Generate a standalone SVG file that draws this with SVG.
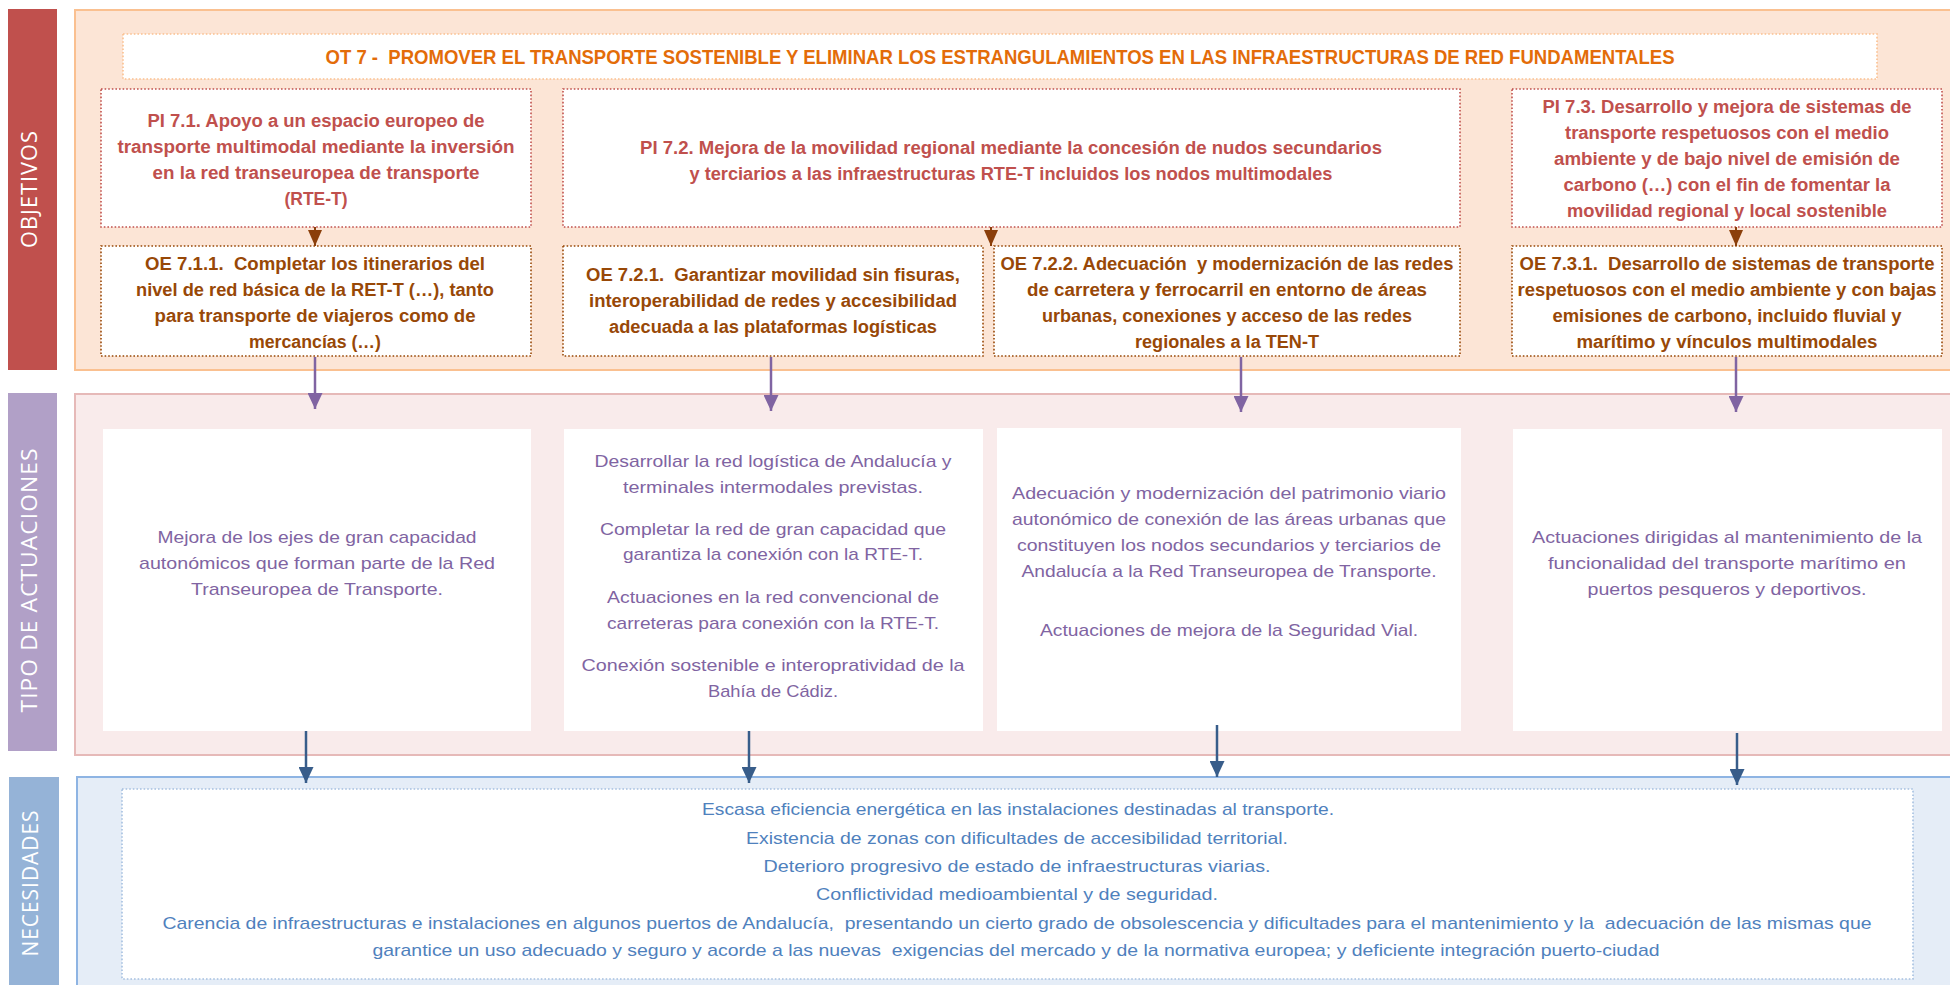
<svg xmlns="http://www.w3.org/2000/svg" width="1950" height="985" viewBox="0 0 1950 985">
<defs>
<style>
.band{stroke:none}
.bandtxt{font-family:"Open Sans","Liberation Sans",sans-serif;font-size:21px;fill:#ffffff;text-anchor:middle;letter-spacing:1px}
.dot{fill:#ffffff;stroke-width:1.6;stroke-dasharray:1.6 2}
.pi{font-family:"Liberation Sans",Arial,sans-serif;font-size:18px;font-weight:bold;fill:#C0504D;text-anchor:middle}
.oe{font-family:"Liberation Sans",Arial,sans-serif;font-size:18px;font-weight:bold;fill:#984807;text-anchor:middle}
.ot{font-family:"Liberation Sans",Arial,sans-serif;font-size:20px;font-weight:bold;fill:#E36C09;text-anchor:middle}
.act{font-family:"Liberation Sans",Arial,sans-serif;font-size:17px;fill:#8064A2;text-anchor:middle}
.nec{font-family:"Liberation Sans",Arial,sans-serif;font-size:17px;fill:#4F81BD;text-anchor:middle}
.pre{white-space:pre}
.cb{stroke:#8B3F0B;stroke-width:2;fill:none}
.cp{stroke:#8064A2;stroke-width:2.5;fill:none}
.cl{stroke:#385D8A;stroke-width:2.5;fill:none}
</style>
<marker id="ahB" viewBox="0 0 16 14" markerWidth="16" markerHeight="14" refX="16" refY="7" orient="auto" markerUnits="userSpaceOnUse"><path d="M0,0 L16,7 L0,14 Z" fill="#8B3F0B"/></marker>
<marker id="ahP" viewBox="0 0 16 15" markerWidth="16" markerHeight="15" refX="16" refY="7.5" orient="auto" markerUnits="userSpaceOnUse"><path d="M0,0 L16,7.5 L0,15 Z" fill="#8064A2"/></marker>
<marker id="ahL" viewBox="0 0 16 15" markerWidth="16" markerHeight="15" refX="16" refY="7.5" orient="auto" markerUnits="userSpaceOnUse"><path d="M0,0 L16,7.5 L0,15 Z" fill="#385D8A"/></marker>
</defs>
<rect width="1950" height="985" fill="#ffffff"/>

<g id="sec-objetivos">
<rect x="8" y="9" width="49" height="361" fill="#C0504D"/>
<text class="bandtxt" transform="translate(37,189) rotate(-90)" textLength="118" lengthAdjust="spacingAndGlyphs">OBJETIVOS</text>
<rect x="75" y="10" width="1900" height="360" fill="#FCE5D6" stroke="#FAC090" stroke-width="2"/>
</g>

<g id="sec-actuaciones">
<rect x="8" y="393" width="49" height="358" fill="#B1A0C7"/>
<text class="bandtxt" transform="translate(37,580) rotate(-90)" textLength="265" lengthAdjust="spacingAndGlyphs">TIPO DE ACTUACIONES</text>
<rect x="75" y="394" width="1900" height="361" fill="#F9EBEB" stroke="#E6B9B8" stroke-width="2"/>
</g>

<g id="sec-necesidades">
<rect x="9" y="777" width="50" height="220" fill="#95B3D7"/>
<text class="bandtxt" transform="translate(38,883) rotate(-90)" textLength="147" lengthAdjust="spacingAndGlyphs">NECESIDADES</text>
<rect x="77" y="777" width="1900" height="220" fill="#E5EDF7" stroke="#8EB4E3" stroke-width="2"/>
</g>

<g id="ot7">
<rect class="dot" x="123" y="34" width="1754" height="45" stroke="#FAC090"/>
<text class="ot pre" x="1000" y="64" textLength="1349" lengthAdjust="spacingAndGlyphs">OT 7 -  PROMOVER EL TRANSPORTE SOSTENIBLE Y ELIMINAR LOS ESTRANGULAMIENTOS EN LAS INFRAESTRUCTURAS DE RED FUNDAMENTALES</text>
</g>

<g id="pi71">
<rect class="dot" x="101" y="89" width="430" height="138" stroke="#C0504D"/>
<text class="pi" x="316" y="127" textLength="337" lengthAdjust="spacingAndGlyphs">PI 7.1. Apoyo a un espacio europeo de</text>
<text class="pi" x="316" y="153" textLength="397" lengthAdjust="spacingAndGlyphs">transporte multimodal mediante la inversión</text>
<text class="pi" x="316" y="179" textLength="327" lengthAdjust="spacingAndGlyphs">en la red transeuropea de transporte</text>
<text class="pi" x="316" y="205" textLength="63" lengthAdjust="spacingAndGlyphs">(RTE-T)</text>
</g>

<g id="pi72">
<rect class="dot" x="563" y="89" width="897" height="138" stroke="#C0504D"/>
<text class="pi" x="1011" y="154" textLength="742" lengthAdjust="spacingAndGlyphs">PI 7.2. Mejora de la movilidad regional mediante la concesión de nudos secundarios</text>
<text class="pi" x="1011" y="180" textLength="643" lengthAdjust="spacingAndGlyphs">y terciarios a las infraestructuras RTE-T incluidos los nodos multimodales</text>
</g>

<g id="pi73">
<rect class="dot" x="1512" y="89" width="430" height="138" stroke="#C0504D"/>
<text class="pi" x="1727" y="113" textLength="369" lengthAdjust="spacingAndGlyphs">PI 7.3. Desarrollo y mejora de sistemas de</text>
<text class="pi" x="1727" y="139" textLength="324" lengthAdjust="spacingAndGlyphs">transporte respetuosos con el medio</text>
<text class="pi" x="1727" y="165" textLength="346" lengthAdjust="spacingAndGlyphs">ambiente y de bajo nivel de emisión de</text>
<text class="pi" x="1727" y="191" textLength="327" lengthAdjust="spacingAndGlyphs">carbono (…) con el fin de fomentar la</text>
<text class="pi" x="1727" y="217" textLength="320" lengthAdjust="spacingAndGlyphs">movilidad regional y local sostenible</text>
</g>

<g id="oe711">
<rect class="dot" x="101" y="246" width="430" height="110" stroke="#984807"/>
<text class="oe pre" x="315" y="270" textLength="340" lengthAdjust="spacingAndGlyphs">OE 7.1.1.  Completar los itinerarios del</text>
<text class="oe" x="315" y="296" textLength="358" lengthAdjust="spacingAndGlyphs">nivel de red básica de la RET-T (…), tanto</text>
<text class="oe" x="315" y="322" textLength="321" lengthAdjust="spacingAndGlyphs">para transporte de viajeros como de</text>
<text class="oe" x="315" y="348" textLength="132" lengthAdjust="spacingAndGlyphs">mercancías (…)</text>
</g>

<g id="oe721">
<rect class="dot" x="563" y="246" width="420" height="110" stroke="#984807"/>
<text class="oe pre" x="773" y="281" textLength="374" lengthAdjust="spacingAndGlyphs">OE 7.2.1.  Garantizar movilidad sin fisuras,</text>
<text class="oe" x="773" y="307" textLength="368" lengthAdjust="spacingAndGlyphs">interoperabilidad de redes y accesibilidad</text>
<text class="oe" x="773" y="333" textLength="328" lengthAdjust="spacingAndGlyphs">adecuada a las plataformas logísticas</text>
</g>

<g id="oe722">
<rect class="dot" x="994" y="246" width="466" height="110" stroke="#984807"/>
<text class="oe pre" x="1227" y="270" textLength="453" lengthAdjust="spacingAndGlyphs">OE 7.2.2. Adecuación  y modernización de las redes</text>
<text class="oe" x="1227" y="296" textLength="400" lengthAdjust="spacingAndGlyphs">de carretera y ferrocarril en entorno de áreas</text>
<text class="oe" x="1227" y="322" textLength="370" lengthAdjust="spacingAndGlyphs">urbanas, conexiones y acceso de las redes</text>
<text class="oe" x="1227" y="348" textLength="184" lengthAdjust="spacingAndGlyphs">regionales a la TEN-T</text>
</g>

<g id="oe731">
<rect class="dot" x="1512" y="246" width="430" height="110" stroke="#984807"/>
<text class="oe pre" x="1727" y="270" textLength="415" lengthAdjust="spacingAndGlyphs">OE 7.3.1.  Desarrollo de sistemas de transporte</text>
<text class="oe" x="1727" y="296" textLength="419" lengthAdjust="spacingAndGlyphs">respetuosos con el medio ambiente y con bajas</text>
<text class="oe" x="1727" y="322" textLength="349" lengthAdjust="spacingAndGlyphs">emisiones de carbono, incluido fluvial y</text>
<text class="oe" x="1727" y="348" textLength="301" lengthAdjust="spacingAndGlyphs">marítimo y vínculos multimodales</text>
</g>

<g id="act1">
<rect x="103" y="429" width="428" height="302" fill="#ffffff"/>
<text class="act" x="317" y="543" textLength="319" lengthAdjust="spacingAndGlyphs">Mejora de los ejes de gran capacidad</text>
<text class="act" x="317" y="569" textLength="356" lengthAdjust="spacingAndGlyphs">autonómicos que forman parte de la Red</text>
<text class="act" x="317" y="595" textLength="252" lengthAdjust="spacingAndGlyphs">Transeuropea de Transporte.</text>
</g>

<g id="act2">
<rect x="564" y="429" width="419" height="302" fill="#ffffff"/>
<text class="act" x="773" y="467" textLength="357" lengthAdjust="spacingAndGlyphs">Desarrollar la red logística de Andalucía y</text>
<text class="act" x="773" y="493" textLength="300" lengthAdjust="spacingAndGlyphs">terminales intermodales previstas.</text>
<text class="act" x="773" y="535" textLength="346" lengthAdjust="spacingAndGlyphs">Completar la red de gran capacidad que</text>
<text class="act" x="773" y="560" textLength="300" lengthAdjust="spacingAndGlyphs">garantiza la conexión con la RTE-T.</text>
<text class="act" x="773" y="603" textLength="332" lengthAdjust="spacingAndGlyphs">Actuaciones en la red convencional de</text>
<text class="act" x="773" y="629" textLength="332" lengthAdjust="spacingAndGlyphs">carreteras para conexión con la RTE-T.</text>
<text class="act" x="773" y="671" textLength="383" lengthAdjust="spacingAndGlyphs">Conexión sostenible e interopratividad de la</text>
<text class="act" x="773" y="697" textLength="130" lengthAdjust="spacingAndGlyphs">Bahía de Cádiz.</text>
</g>

<g id="act3">
<rect x="997" y="428" width="464" height="303" fill="#ffffff"/>
<text class="act" x="1229" y="499" textLength="434" lengthAdjust="spacingAndGlyphs">Adecuación y modernización del patrimonio viario</text>
<text class="act" x="1229" y="525" textLength="434" lengthAdjust="spacingAndGlyphs">autonómico de conexión de las áreas urbanas que</text>
<text class="act" x="1229" y="551" textLength="424" lengthAdjust="spacingAndGlyphs">constituyen los nodos secundarios y terciarios de</text>
<text class="act" x="1229" y="577" textLength="415" lengthAdjust="spacingAndGlyphs">Andalucía a la Red Transeuropea de Transporte.</text>
<text class="act" x="1229" y="636" textLength="378" lengthAdjust="spacingAndGlyphs">Actuaciones de mejora de la Seguridad Vial.</text>
</g>

<g id="act4">
<rect x="1513" y="429" width="429" height="302" fill="#ffffff"/>
<text class="act" x="1727" y="543" textLength="390" lengthAdjust="spacingAndGlyphs">Actuaciones dirigidas al mantenimiento de la</text>
<text class="act" x="1727" y="569" textLength="358" lengthAdjust="spacingAndGlyphs">funcionalidad del transporte marítimo en</text>
<text class="act" x="1727" y="595" textLength="279" lengthAdjust="spacingAndGlyphs">puertos pesqueros y deportivos.</text>
</g>

<g id="necesidades">
<rect class="dot" x="122" y="789" width="1791" height="190" stroke="#A6C0E0" stroke-width="1.2"/>
<text class="nec" x="1018" y="815" textLength="632" lengthAdjust="spacingAndGlyphs">Escasa eficiencia energética en las instalaciones destinadas al transporte.</text>
<text class="nec" x="1017" y="844" textLength="542" lengthAdjust="spacingAndGlyphs">Existencia de zonas con dificultades de accesibilidad territorial.</text>
<text class="nec" x="1017" y="872" textLength="507" lengthAdjust="spacingAndGlyphs">Deterioro progresivo de estado de infraestructuras viarias.</text>
<text class="nec" x="1017" y="900" textLength="402" lengthAdjust="spacingAndGlyphs">Conflictividad medioambiental y de seguridad.</text>
<text class="nec pre" x="1017" y="929" textLength="1709" lengthAdjust="spacingAndGlyphs">Carencia de infraestructuras e instalaciones en algunos puertos de Andalucía,  presentando un cierto grado de obsolescencia y dificultades para el mantenimiento y la  adecuación de las mismas que</text>
<text class="nec pre" x="1016" y="956" textLength="1287" lengthAdjust="spacingAndGlyphs">garantice un uso adecuado y seguro y acorde a las nuevas  exigencias del mercado y de la normativa europea; y deficiente integración puerto-ciudad</text>
</g>

<g id="connectors">
<line class="cb" x1="315" y1="227" x2="315" y2="246" marker-end="url(#ahB)"/>
<line class="cb" x1="991" y1="227" x2="991" y2="246" marker-end="url(#ahB)"/>
<line class="cb" x1="1736" y1="227" x2="1736" y2="246" marker-end="url(#ahB)"/>
<line class="cp" x1="315" y1="357" x2="315" y2="409" marker-end="url(#ahP)"/>
<line class="cp" x1="771" y1="357" x2="771" y2="411" marker-end="url(#ahP)"/>
<line class="cp" x1="1241" y1="357" x2="1241" y2="412" marker-end="url(#ahP)"/>
<line class="cp" x1="1736" y1="357" x2="1736" y2="412" marker-end="url(#ahP)"/>
<line class="cl" x1="306" y1="731" x2="306" y2="783" marker-end="url(#ahL)"/>
<line class="cl" x1="749" y1="731" x2="749" y2="783" marker-end="url(#ahL)"/>
<line class="cl" x1="1217" y1="725" x2="1217" y2="777" marker-end="url(#ahL)"/>
<line class="cl" x1="1737" y1="733" x2="1737" y2="785" marker-end="url(#ahL)"/>
</g>
</svg>
